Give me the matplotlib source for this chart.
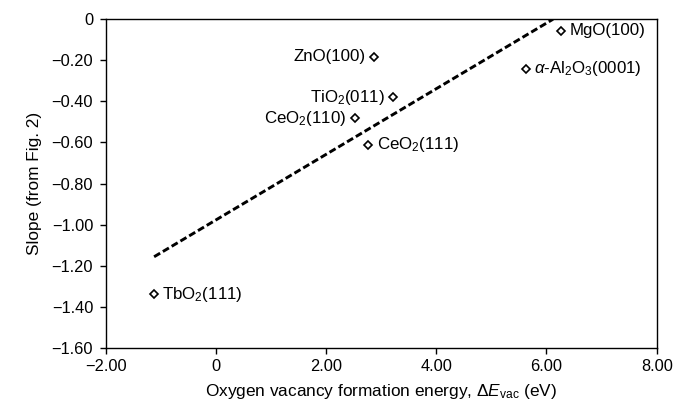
import numpy as np
import matplotlib
matplotlib.use("Agg")
import matplotlib.pyplot as plt

plt.rcParams['font.family'] = ['Liberation Sans', 'DejaVu Sans']
plt.rcParams['mathtext.fontset'] = 'custom'
plt.rcParams['mathtext.rm'] = 'Liberation Sans'
plt.rcParams['mathtext.it'] = 'Liberation Sans:italic'
plt.rcParams['mathtext.bf'] = 'Liberation Sans:bold'

# data
labels = ['MgO(100)', r'$\alpha$-Al$_2$O$_3$(0001)', 'ZnO(100)', 'TiO$_2$(011)',
          'CeO$_2$(110)', 'CeO$_2$(111)', 'TbO$_2$(111)']
e_vac = [6.26, 5.62, 2.87, 3.22, 2.52, 2.77, -1.12]
slope = [-0.057, -0.24, -0.183, -0.381, -0.483, -0.61, -1.339]
label_side = ['right', 'right', 'left', 'left', 'left', 'right', 'right']

fit_x = [-1.12, 6.12]
fit_y = [-1.156, 0.0]

xticks = [-2, 0, 2, 4, 6, 8]
xticklabels = ['\u22122.00', '0', '2.00', '4.00', '6.00', '8.00']
yticks = [0, -0.2, -0.4, -0.6, -0.8, -1.0, -1.2, -1.4, -1.6]
yticklabels = ['0', '\u22120.20', '\u22120.40', '\u22120.60', '\u22120.80',
               '\u22121.00', '\u22121.20', '\u22121.40', '\u22121.60']

fig = plt.figure(figsize=(6.77, 4.08), dpi=100)
ax = fig.add_axes([0.156, 0.147, 0.814, 0.806])

ax.plot(fit_x, fit_y, color='black', lw=2.1, linestyle=(0, (2.4, 1.1)))
ax.plot(e_vac, slope, linestyle='none', marker='D', markersize=4.4,
        markerfacecolor='white', markeredgecolor='black', markeredgewidth=1.2)

for x, y, s, side in zip(e_vac, slope, labels, label_side):
    if side == 'right':
        ax.annotate(s, (x, y), xytext=(6, 0), textcoords='offset points',
                    ha='left', va='center', fontsize=12.2)
    else:
        ax.annotate(s, (x, y), xytext=(-6, 0), textcoords='offset points',
                    ha='right', va='center', fontsize=12.2)

ax.set_xlim(-2, 8)
ax.set_ylim(-1.6, 0)
ax.set_xticks(xticks)
ax.set_xticklabels(xticklabels)
ax.set_yticks(yticks)
ax.set_yticklabels(yticklabels)
ax.tick_params(direction='out', length=4, width=1, labelsize=11.8)
ax.tick_params(axis='y', pad=5)
ax.tick_params(axis='x', pad=4)
for sp in ax.spines.values():
    sp.set_linewidth(1.0)

ax.set_xlabel(r'Oxygen vacancy formation energy, $\Delta E_{\rm vac}$ (eV)', fontsize=12.4, labelpad=6)
ax.set_ylabel('Slope (from Fig. 2)', fontsize=12.4, labelpad=7)

fig.savefig('out.png', dpi=100)
